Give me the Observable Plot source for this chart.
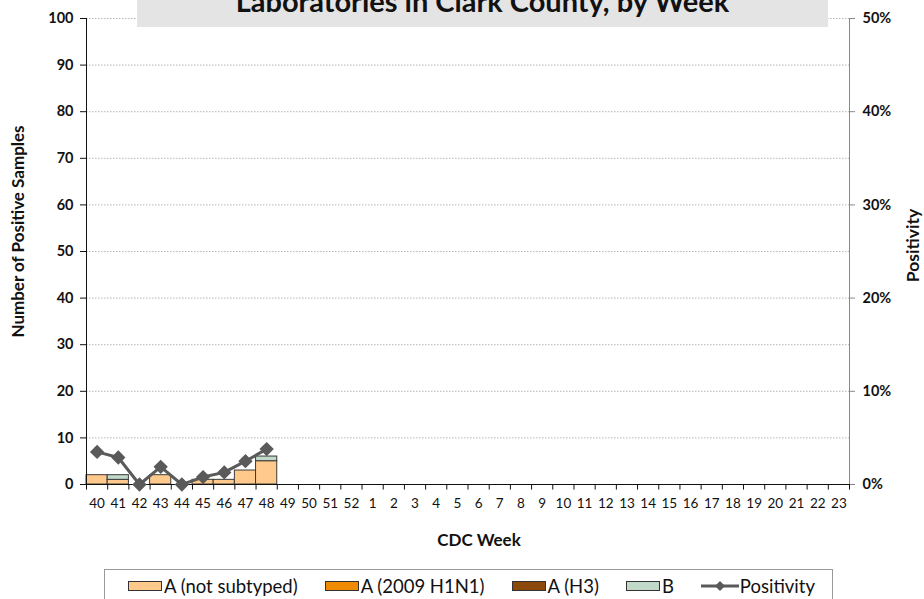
<!DOCTYPE html>
<html>
<head>
<meta charset="utf-8">
<script src="https://cdn.jsdelivr.net/npm/d3@7"></script>
<script src="https://cdn.jsdelivr.net/npm/@observablehq/plot@0.6"></script>
<style>
  html, body { margin: 0; padding: 0; background: #fff; }
  body { width: 924px; height: 599px; overflow: hidden; position: relative; font-family: Lato, "Open Sans", sans-serif; }
  #title {
    position: absolute; left: 137px; top: 0; width: 691px; height: 27px;
    background: #e4e4e4; overflow: hidden; z-index: 2;
  }
  #title span {
    position: absolute; left: 0; right: 0; top: -14px; text-align: center;
    font-weight: bold; font-size: 29px; line-height: 1; color: #111; white-space: nowrap;
  }
  #legend {
    position: absolute; left: 104px; top: 569px; width: 729px; height: 40px;
    border: 1px solid #999; border-bottom: none; box-sizing: border-box;
    display: flex; justify-content: center; align-items: flex-start; gap: 27px;
    padding-top: 5px; padding-left: 6px; font-size: 18.5px; color: #111; z-index: 2; background: #fff;
  }
  .item { display: flex; align-items: center; white-space: nowrap; }
  .sw { width: 32px; height: 8px; border: 1px solid #333; margin-right: 2px; }
  #chart { position: absolute; left: 0; top: 0; }
</style>
</head>
<body>
<div id="title"><span>Laboratories in Clark County, by Week</span></div>
<div id="chart"></div>
<div id="legend"></div>
<script>
// ---- data ----
const weeks = ["40","41","42","43","44","45","46","47","48","49","50","51","52",
  "1","2","3","4","5","6","7","8","9","10","11","12","13","14","15","16","17","18","19","20","21","22","23"];
const seriesNames = ["A (not subtyped)", "A (2009 H1N1)", "A (H3)", "B"];
const seriesColors = ["#FFC98B", "#F08A00", "#8B4A0C", "#C0D9C9"];
const notSubtyped = [2, 1, 0, 2, 0, 1, 1, 3, 5];
const h1n1 =        [0, 0, 0, 0, 0, 0, 0, 0, 0];
const h3 =          [0, 0, 0, 0, 0, 0, 0, 0, 0];
const bSamples =    [0, 1, 0, 0, 0, 0, 0, 0, 1];
const positivity =  [3.5, 2.9, 0, 1.9, 0, 0.8, 1.3, 2.5, 3.8]; // percent
const leftTicks = [0,10,20,30,40,50,60,70,80,90,100];
const rightTicks = [0,10,20,30,40,50]; // percent

// ---- tables ----
const seriesValues = [notSubtyped, h1n1, h3, bSamples];
const bars = [];
seriesValues.forEach((vals, si) => {
  vals.forEach((v, i) => { bars.push({week: weeks[i], type: seriesNames[si], value: v}); });
});
const barsNonZero = bars.filter(d => d.value > 0);
const posData = positivity.map((p, i) => ({week: weeks[i], pos: p}));
const pctToY = p => p * 2; // 50% maps to 100 samples

const W = 924, H = 599;
const mL = 86, mR = 75, mT = 18, mB = 115;
const bw = (W - mL - mR) / weeks.length;

const plot = Plot.plot({
  width: W, height: H,
  marginLeft: mL, marginRight: mR, marginTop: mT, marginBottom: mB,
  style: {fontFamily: "Lato, 'Open Sans', sans-serif", fontSize: "13px", color: "#111", background: "transparent"},
  x: {type: "band", domain: weeks, padding: 0, round: false},
  y: {domain: [0, 100]},
  color: {domain: seriesNames, range: seriesColors},
  marks: [
    Plot.ruleY(leftTicks.filter(d => d > 0), {stroke: "#b5b5b5", strokeDasharray: "1.5,1.5", strokeWidth: 1}),
    Plot.barY(barsNonZero, {x: "week", y: "value", fill: "type", stroke: "#3a3a3a", strokeWidth: 1, order: seriesNames, inset: 0}),
    // x axis line and boundary ticks
    Plot.ruleY([0], {stroke: "#111", strokeWidth: 1}),
    Plot.ruleX(weeks, {x: d => d, y1: 0, y2: -1.2, dx: -bw / 2, stroke: "#111"}),
    Plot.ruleX([weeks[weeks.length - 1]], {x: d => d, y1: 0, y2: -1.2, dx: bw / 2, stroke: "#111"}),
    // left axis line
    Plot.ruleX([weeks[0]], {x: d => d, y1: 0, y2: 100, dx: -bw / 2, stroke: "#111", strokeWidth: 1}),
    // right axis line
    Plot.ruleX([weeks[weeks.length - 1]], {x: d => d, y1: 0, y2: 100, dx: bw / 2, stroke: "#888", strokeWidth: 1}),
    Plot.axisX({tickSize: 0, tickPadding: 14, label: null, fontSize: 13.5}),
    Plot.axisY({anchor: "left", ticks: leftTicks, tickSize: 6, tickPadding: 7, label: null, fontWeight: "bold", fontSize: 14.5}),
    Plot.axisY({anchor: "right", ticks: rightTicks.map(pctToY), tickFormat: d => (d / 2) + "%", tickSize: 5, tickPadding: 8, label: null, stroke: "#888", fill: "#111", fontWeight: "bold", fontSize: 14.5}),
    // positivity line
    Plot.line(posData, {x: "week", y: d => pctToY(d.pos), stroke: "#5a5a5a", strokeWidth: 3}),
    Plot.dot(posData, {x: "week", y: d => pctToY(d.pos), symbol: "diamond2", r: 5.5, fill: "#5a5a5a", stroke: "#5a5a5a"}),
    // axis titles
    Plot.text(["Number of Positive Samples"], {frameAnchor: "left", textAnchor: "middle", rotate: -90, dx: -68, dy: -20, fontWeight: "bold", fontSize: 17}),
    Plot.text(["Positivity"], {frameAnchor: "right", textAnchor: "middle", rotate: -90, dx: 64, dy: -6, fontWeight: "bold", fontSize: 17.5}),
    Plot.text(["CDC Week"], {frameAnchor: "bottom", dx: 11, dy: 61, fontWeight: "bold", fontSize: 17})
  ]
});
document.getElementById("chart").appendChild(plot);

// ---- legend ----
const legend = document.getElementById("legend");
seriesNames.forEach((name, i) => {
  const it = document.createElement("div");
  it.className = "item";
  const sw = document.createElement("div");
  sw.className = "sw";
  sw.style.background = seriesColors[i];
  it.appendChild(sw);
  it.appendChild(document.createTextNode(name));
  legend.appendChild(it);
});
const li = document.createElement("div");
li.className = "item";
li.innerHTML = '<svg width="38" height="14" style="margin-right:1px"><line x1="0" y1="7" x2="38" y2="7" stroke="#5a5a5a" stroke-width="3"/><path d="M19,2 L24,7 L19,12 L14,7 Z" fill="#5a5a5a"/></svg>';
li.appendChild(document.createTextNode("Positivity"));
legend.appendChild(li);
</script>
</body>
</html>
